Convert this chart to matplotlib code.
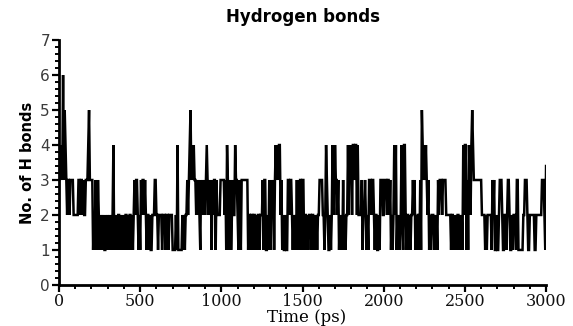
import numpy as np
import matplotlib
matplotlib.use("Agg")
import matplotlib.pyplot as plt
from matplotlib.ticker import MultipleLocator

# ---- data (5 ps sampling) ----
time_step_ps = 5
h_bonds = [
    3, 4, 3, 4, 3, 6, 3, 5, 4, 3, 2, 3, 3, 2, 3, 3, 3, 3, 2, 2,   # 0-95
    2, 2, 2, 2, 3, 3, 2, 3, 3, 2, 3, 2, 2, 3, 3, 3, 4, 5, 3, 3,   # 100-195
    3, 3, 1, 2, 1, 3, 2, 1, 3, 2, 1, 2, 1, 2, 1, 2, 1, 1, 2, 1,   # 200-295
    2, 1, 2, 1, 2, 1, 2, 4, 1, 2, 1, 2, 1, 2, 2, 1, 2, 1, 2, 1,   # 300-395
    2, 1, 2, 2, 1, 2, 1, 2, 2, 1, 2, 1, 2, 3, 2, 3, 3, 2, 1, 2,   # 400-495
    1, 3, 2, 3, 3, 2, 3, 2, 1, 2, 2, 1, 2, 1, 1, 2, 2, 2, 3, 3,   # 500-595
    2, 2, 1, 2, 2, 2, 2, 1, 2, 2, 2, 1, 2, 2, 2, 1, 2, 2, 2, 2,   # 600-695
    1, 1, 1, 1, 2, 1, 4, 1, 1, 1, 1, 1, 2, 1, 2, 1, 2, 2, 3, 2,   # 700-795
    3, 4, 5, 3, 4, 3, 4, 3, 3, 2, 3, 2, 3, 2, 1, 3, 2, 3, 2, 3,   # 800-895
    2, 3, 4, 3, 2, 3, 2, 3, 1, 3, 2, 3, 3, 1, 3, 2, 2, 2, 2, 3,   # 900-995
    3, 3, 3, 3, 2, 3, 1, 4, 3, 1, 2, 3, 1, 2, 3, 2, 2, 4, 3, 3,   # 1000-1095
    2, 1, 3, 2, 1, 3, 3, 3, 3, 3, 3, 3, 3, 1, 2, 2, 1, 2, 2, 1,   # 1100-1195
    2, 2, 1, 2, 1, 2, 2, 1, 2, 2, 2, 3, 1, 3, 3, 1, 1, 2, 1, 3,   # 1200-1295
    2, 1, 3, 2, 3, 1, 3, 4, 3, 4, 3, 4, 4, 2, 3, 1, 2, 1, 1, 2,   # 1300-1395
    1, 1, 3, 3, 2, 3, 3, 2, 1, 2, 1, 2, 1, 3, 1, 3, 1, 3, 3, 1,   # 1400-1495
    3, 3, 1, 2, 2, 1, 2, 1, 2, 2, 2, 1, 2, 2, 1, 2, 1, 2, 1, 2,   # 1500-1595
    2, 3, 3, 3, 3, 2, 2, 1, 2, 4, 3, 2, 1, 1, 2, 1, 2, 4, 3, 2,   # 1600-1695
    4, 3, 3, 2, 3, 1, 2, 1, 2, 1, 3, 1, 2, 1, 2, 2, 4, 2, 4, 3,   # 1700-1795
    4, 2, 4, 4, 3, 4, 4, 2, 4, 2, 2, 2, 2, 3, 1, 2, 2, 3, 2, 1,   # 1800-1895
    2, 1, 3, 3, 3, 2, 3, 3, 2, 1, 2, 2, 1, 1, 2, 1, 3, 3, 3, 2,   # 1900-1995
    2, 3, 3, 3, 2, 3, 3, 2, 3, 1, 2, 1, 2, 4, 2, 4, 1, 2, 1, 2,   # 2000-2095
    1, 2, 4, 2, 1, 4, 4, 2, 1, 2, 2, 1, 2, 1, 2, 2, 3, 2, 3, 1,   # 2100-2195
    2, 1, 2, 2, 1, 3, 1, 5, 4, 3, 4, 3, 4, 3, 2, 3, 1, 2, 1, 2,   # 2200-2295
    2, 2, 1, 2, 1, 2, 1, 3, 2, 3, 3, 3, 2, 3, 3, 3, 3, 2, 2, 2,   # 2300-2395
    2, 2, 2, 1, 2, 2, 1, 2, 1, 2, 1, 2, 2, 1, 2, 1, 2, 1, 4, 2,   # 2400-2495
    4, 4, 1, 3, 1, 4, 3, 2, 4, 5, 4, 3, 3, 3, 3, 3, 3, 3, 3, 3,   # 2500-2595
    3, 2, 2, 2, 2, 1, 2, 1, 2, 2, 2, 2, 2, 1, 3, 2, 3, 1, 1, 2,   # 2600-2695
    1, 1, 2, 3, 3, 3, 2, 1, 1, 2, 2, 1, 2, 3, 3, 2, 1, 1, 2, 1,   # 2700-2795
    2, 2, 2, 1, 3, 3, 1, 1, 1, 1, 1, 1, 2, 2, 3, 3, 3, 2, 1, 1,   # 2800-2895
    2, 2, 2, 2, 2, 2, 1, 1, 2, 2, 2, 2, 2, 2, 2, 3, 3, 3, 2, 1,   # 2900-2995
    3.4,                                                          # 3000
]
time_ps = np.arange(len(h_bonds)) * time_step_ps

x_ticks = [0, 500, 1000, 1500, 2000, 2500, 3000]
y_ticks = [0, 1, 2, 3, 4, 5, 6, 7]
title_text = "Hydrogen bonds"
x_label = "Time (ps)"
y_label = "No. of H bonds"

# ---- figure ----
fig = plt.figure(figsize=(5.73, 3.26), dpi=100)
ax = fig.add_axes([0.103, 0.126, 0.850, 0.751])

ax.plot(time_ps, h_bonds, color="black", lw=1.8, solid_joinstyle="miter")

ax.set_xlim(0, 3000)
ax.set_ylim(0, 7)
ax.set_xticks(x_ticks)
ax.set_yticks(y_ticks)
ax.xaxis.set_minor_locator(MultipleLocator(100))
ax.yaxis.set_minor_locator(MultipleLocator(0.2))

for s in ("top", "right"):
    ax.spines[s].set_visible(False)
for s in ("left", "bottom"):
    ax.spines[s].set_linewidth(2.0)

ax.tick_params(which="major", direction="out", length=5, width=1.6, color="black")
ax.tick_params(which="minor", direction="out", length=3, width=1.4, color="black")
ax.tick_params(axis="y", which="major", labelsize=11, labelcolor="#3a3a3a", pad=1.5)
ax.tick_params(axis="x", which="major", labelsize=11.5, labelcolor="#111111", pad=0.5)
for lab in ax.get_xticklabels():
    lab.set_fontfamily("DejaVu Serif")

ax.set_ylabel(y_label, family="DejaVu Sans", fontweight="bold", fontsize=10.5, labelpad=4)
ax.set_title(title_text, family="DejaVu Sans", fontweight="bold", fontsize=12, pad=13)
fig.text(0.535, 0.0, x_label, family="DejaVu Serif", fontsize=12,
         ha="center", va="bottom")

fig.savefig("out.png", dpi=100)
